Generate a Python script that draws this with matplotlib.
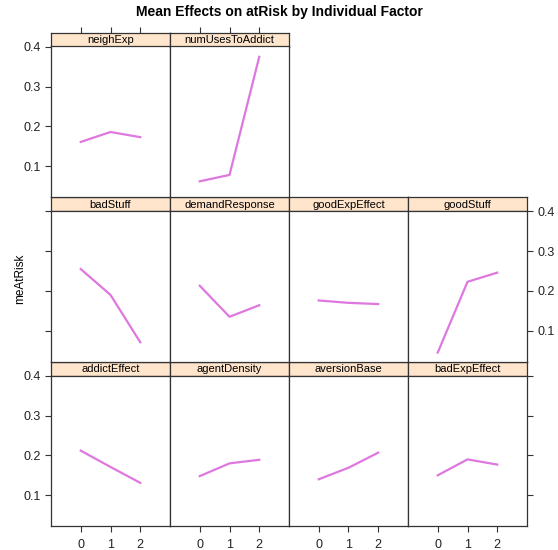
import matplotlib
matplotlib.use("Agg")
import matplotlib.pyplot as plt

plt.rcParams['font.family'] = ['Liberation Sans', 'DejaVu Sans']

levels = [0, 1, 2]

# panel layout: (row, col) -> factor name, lattice order
factors = ["addictEffect", "agentDensity", "aversionBase", "badExpEffect",
           "badStuff", "demandResponse", "goodExpEffect", "goodStuff",
           "neighExp", "numUsesToAddict"]

addictEffect = [0.212, 0.171, 0.131]
agentDensity = [0.148, 0.180, 0.189]
aversionBase = [0.140, 0.169, 0.207]
badExpEffect = [0.150, 0.190, 0.177]
badStuff = [0.255, 0.190, 0.071]
demandResponse = [0.213, 0.135, 0.164]
goodExpEffect = [0.176, 0.170, 0.167]
goodStuff = [0.045, 0.223, 0.246]
neighExp = [0.161, 0.186, 0.173]
numUsesToAddict = [0.062, 0.078, 0.375]

values = [addictEffect, agentDensity, aversionBase, badExpEffect,
          badStuff, demandResponse, goodExpEffect, goodStuff,
          neighExp, numUsesToAddict]

yticks = [0.1, 0.2, 0.3, 0.4]

W, H = 558, 550
fig = plt.figure(figsize=(W / 100, H / 100), dpi=100)

x_edges = [51, 170, 289, 408, 527]
row_top = [32.5, 197, 361.5]
strip_h = 14
panel_h = 150.5
line_col = "#DE78E0"
strip_col = "#FFE5CC"
edge = "#333333"


def fx(px):
    return px / W


def fy(py):
    return 1 - py / H


for i, (name, vals) in enumerate(zip(factors, values)):
    row = 2 - i // 4   # row 0 is top on the page
    col = i % 4
    x0 = x_edges[col]
    w = x_edges[col + 1] - x0
    top = row_top[row]

    # strip
    sax = fig.add_axes([fx(x0), fy(top + strip_h), w / W, strip_h / H])
    sax.set_facecolor(strip_col)
    sax.set_xlim(-1, 3)
    sax.set_ylim(0, 1)
    sax.set_yticks([])
    for s in sax.spines.values():
        s.set_color(edge)
        s.set_linewidth(0.9)
    sax.text(1, 0.45, name, ha="center", va="center", fontsize=8, color="black")
    if row == 0:
        sax.xaxis.tick_top()
        sax.set_xticks(levels)
        sax.tick_params(axis="x", direction="out", length=4, labeltop=False,
                        color=edge, width=0.8)
    else:
        sax.set_xticks([])

    # panel
    ax = fig.add_axes([fx(x0), fy(top + strip_h + panel_h), w / W, panel_h / H])
    ax.plot(levels, vals, color=line_col, lw=1.6, solid_joinstyle="round")
    ax.set_xlim(-1, 3)
    ax.set_ylim(0.0225, 0.401)
    for s in ax.spines.values():
        s.set_color(edge)
        s.set_linewidth(0.9)
    ax.tick_params(colors=edge, width=0.8, length=4, direction="out",
                   labelsize=9, labelcolor="#222222")
    if row == 2:
        ax.set_xticks(levels)
        ax.tick_params(axis="x", pad=5)
    else:
        ax.set_xticks([])

    left_ticks = col == 0
    right_ticks = (col == 3)
    if left_ticks or right_ticks:
        ax.set_yticks(yticks)
        ax.set_yticklabels(["0.1", "0.2", "0.3", "0.4"])
        ax.tick_params(axis="y", left=left_ticks, right=right_ticks,
                       labelleft=left_ticks and row != 1,
                       labelright=right_ticks and row == 1)
    else:
        ax.set_yticks([])

fig.text(fx(279), fy(12), "Mean Effects on atRisk by Individual Factor",
         ha="center", va="center", fontsize=10, fontweight="bold")
fig.text(fx(20), fy(279), "meAtRisk", ha="center", va="center",
         rotation=90, fontsize=8.5)

fig.savefig("out.png", dpi=100)
